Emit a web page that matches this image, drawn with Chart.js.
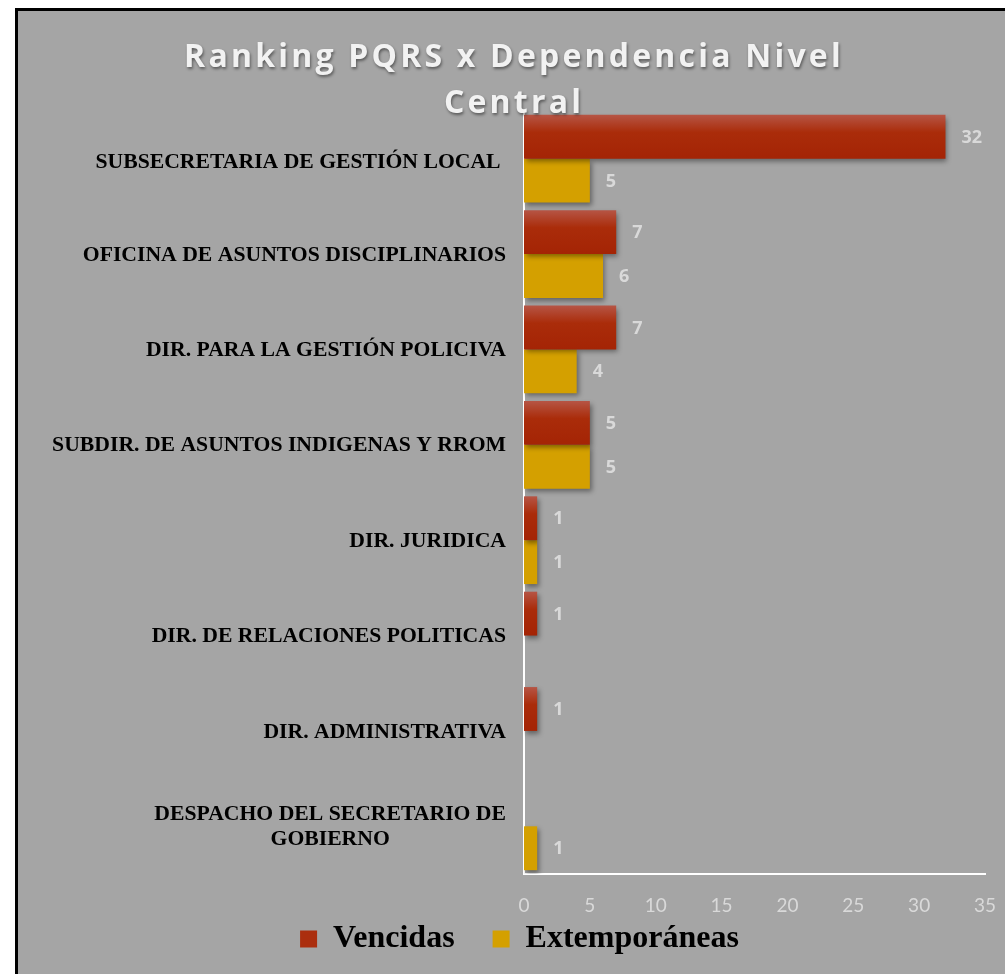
<!DOCTYPE html>
<html lang="es">
<head>
<meta charset="utf-8">
<title>Ranking PQRS x Dependencia Nivel Central</title>
<script src="https://cdn.jsdelivr.net/npm/chart.js@4.4.1/dist/chart.umd.min.js"></script>
<style>
    html, body { margin: 0; padding: 0; background: #fff; overflow: hidden; }
    #frame {
        position: absolute; left: 15px; top: 8px;
        width: 1000px; height: 980px;
        border: 3px solid #000; background: #a5a5a5;
    }
    #pqrsChart { position: absolute; left: 0; top: 0; }
</style>
</head>
<body>
<div id="frame">
    <canvas id="pqrsChart" width="987" height="963"></canvas>
</div>
<script>
var titleLines = ['Ranking PQRS x Dependencia Nivel', 'Central'];
var categories = [
    'SUBSECRETARIA DE GESTIÓN LOCAL ',
    'OFICINA DE ASUNTOS DISCIPLINARIOS',
    'DIR. PARA LA GESTIÓN POLICIVA',
    'SUBDIR. DE ASUNTOS INDIGENAS Y RROM',
    'DIR. JURIDICA',
    'DIR. DE RELACIONES POLITICAS',
    'DIR. ADMINISTRATIVA',
    ['DESPACHO DEL SECRETARIO DE', 'GOBIERNO']
];
var vencidas = [32, 7, 7, 5, 1, 1, 1, null];
var extemporaneas = [5, 6, 4, 5, 1, null, null, 1];
var xTicks = [0, 5, 10, 15, 20, 25, 30, 35];

(function () {
    'use strict';

    var CAT_PCT = 0.92;

    // red bars get a light band at the top, like the office-style bevel
    function redFill(ctx) {
        var chart = ctx.chart;
        var y = chart.scales.y;
        if (!y || ctx.type !== 'data') return '#a82808';
        var band = (y.bottom - y.top) / categories.length;
        var center = y.getPixelForValue(ctx.dataIndex);
        var top = center - band * CAT_PCT / 2;
        var g = chart.ctx.createLinearGradient(0, top, 0, center);
        g.addColorStop(0, '#b65545');
        g.addColorStop(0.4, '#aa2c0a');
        g.addColorStop(1, '#a42405');
        return g;
    }

    var barShadow = {
        id: 'barShadow',
        beforeDatasetsDraw: function (chart) {
            var c = chart.ctx;
            c.save();
            c.shadowColor = 'rgba(0, 0, 0, 0.4)';
            c.shadowBlur = 5;
            c.shadowOffsetX = 2;
            c.shadowOffsetY = 3;
        },
        afterDatasetsDraw: function (chart) {
            chart.ctx.restore();
        }
    };

    var valueLabels = {
        id: 'valueLabels',
        afterDatasetsDraw: function (chart) {
            var c = chart.ctx;
            c.save();
            c.font = 'bold 18px "Open Sans"';
            c.fillStyle = '#d9d9d9';
            c.textAlign = 'left';
            c.textBaseline = 'middle';
            chart.data.datasets.forEach(function (ds, di) {
                chart.getDatasetMeta(di).data.forEach(function (bar, i) {
                    if (ds.data[i] == null) return;
                    c.fillText(String(ds.data[i]), bar.x + 16, bar.y + 1);
                });
            });
            c.restore();
        }
    };

    // category labels: right aligned block, wrapped lines centred on each other
    var catLabels = {
        id: 'catLabels',
        afterDraw: function (chart) {
            var c = chart.ctx;
            var y = chart.scales.y;
            var right = chart.chartArea.left - 18;
            var lh = 25;
            c.save();
            c.font = 'bold 21.7px "Liberation Serif"';
            c.fillStyle = '#000';
            c.textAlign = 'center';
            c.textBaseline = 'middle';
            categories.forEach(function (label, i) {
                var lines = Array.isArray(label) ? label : [label];
                var w = 0;
                lines.forEach(function (l) { w = Math.max(w, c.measureText(l).width); });
                var cx = right - w / 2;
                var cy = y.getPixelForTick(i) + 1 - (lines.length - 1) * lh / 2 + (i === 0 ? 3 : 0);
                lines.forEach(function (l, k) {
                    c.fillText(l, cx, cy + k * lh);
                });
            });
            c.restore();
        }
    };

    var chartTitle = {
        id: 'chartTitle',
        afterDraw: function (chart) {
            var c = chart.ctx;
            c.save();
            c.font = 'bold 32px "Open Sans"';
            c.letterSpacing = '3.2px';
            c.fillStyle = '#f2f2f2';
            c.textAlign = 'center';
            c.textBaseline = 'alphabetic';
            c.shadowColor = 'rgba(0, 0, 0, 0.45)';
            c.shadowBlur = 3;
            c.shadowOffsetX = 1;
            c.shadowOffsetY = 2;
            c.fillText(titleLines[0], 496, 56);
            c.fillText(titleLines[1], 496, 102);
            c.restore();
        }
    };

    var el = document.getElementById('pqrsChart');
    new Chart(el, {
        type: 'bar',
        data: {
            labels: categories,
            datasets: [
                { label: 'Vencidas', data: vencidas, backgroundColor: redFill, borderWidth: 0 },
                { label: 'Extemporáneas', data: extemporaneas, backgroundColor: '#d4a000', borderWidth: 0 }
            ]
        },
        options: {
            indexAxis: 'y',
            responsive: false,
            animation: false,
            layout: { padding: { top: 100, right: 20, left: 36, bottom: 9 } },
            datasets: { bar: { categoryPercentage: CAT_PCT, barPercentage: 1 } },
            plugins: {
                tooltip: { enabled: false },
                legend: {
                    position: 'bottom',
                    labels: {
                        color: '#000',
                        boxWidth: 17,
                        boxHeight: 17,
                        padding: 38,
                        font: { family: 'Liberation Serif', size: 32, weight: 'bold' },
                        generateLabels: function (chart) {
                            return chart.data.datasets.map(function (ds, i) {
                                return {
                                    text: ds.label,
                                    fillStyle: i === 0 ? '#ab2e0e' : '#d4a000',
                                    strokeStyle: 'transparent',
                                    lineWidth: 0,
                                    datasetIndex: i
                                };
                            });
                        }
                    }
                }
            },
            scales: {
                x: {
                    min: 0,
                    max: 35,
                    afterBuildTicks: function (scale) {
                        scale.ticks = xTicks.map(function (v) { return { value: v }; });
                    },
                    // thin axis box so the legend sits close; mirrored labels are not clipped to it
                    afterFit: function (scale) {
                        scale.paddingLeft = 0;
                        scale.paddingRight = 0;
                        scale.height = 11;
                    },
                    grid: { display: false, drawTicks: false },
                    border: { color: '#ffffff', width: 2 },
                    ticks: {
                        color: '#d9d9d9',
                        mirror: true,
                        padding: -43,
                        maxRotation: 0,
                        font: { family: 'Lato', size: 19 }
                    }
                },
                y: {
                    grid: { display: false, drawTicks: false },
                    border: { color: '#ffffff', width: 2 },
                    ticks: { display: false },
                    afterFit: function (scale) { scale.width = 470; }
                }
            }
        },
        plugins: [barShadow, valueLabels, catLabels, chartTitle]
    });
})();
</script>
</body>
</html>
